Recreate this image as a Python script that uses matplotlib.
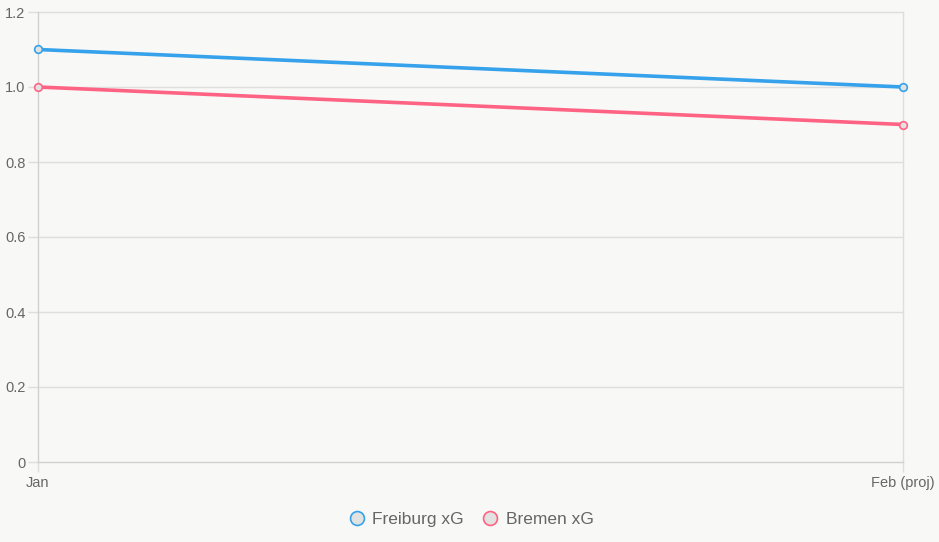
import matplotlib.pyplot as plt
from matplotlib.lines import Line2D

months = ['Jan', 'Feb (proj)']
freiburg_xg = [1.1, 1.0]
bremen_xg = [1.0, 0.9]

bg = '#f8f8f6'
grid_c = '#dedede'
text_c = '#666666'
blue = '#36A2EB'
red = '#FF6384'
marker_fill = '#e2e2e1'

plt.rcParams['font.family'] = ['Liberation Sans', 'DejaVu Sans']

fig = plt.figure(figsize=(9.39, 5.42), dpi=100, facecolor=bg)
ax = fig.add_axes([38/939, 80/542, (903-38)/939, (462-12)/542])
ax.set_facecolor(bg)

x = list(range(len(months)))
for vals, c in [(freiburg_xg, blue), (bremen_xg, red)]:
    ax.plot(x, vals, color=c, lw=2.6, marker='o', ms=5.5, mfc=marker_fill,
            mec=c, mew=1.2, clip_on=False, zorder=3)

ax.set_xlim(0, 1)
ax.set_ylim(0, 1.2)
ax.set_xticks(x)
ax.set_xticklabels(months)
ax.set_yticks([0, 0.2, 0.4, 0.6, 0.8, 1.0, 1.2])
ax.set_yticklabels(['0', '0.2', '0.4', '0.6', '0.8', '1.0', '1.2'])

ax.grid(True, color=grid_c, lw=1)
for gl in ax.get_xgridlines() + ax.get_ygridlines():
    gl.set_clip_on(False)
for s in ax.spines.values():
    s.set_visible(False)
ax.spines['left'].set_visible(True)
ax.spines['left'].set_color('#cfcfcf')
ax.spines['bottom'].set_visible(True)
ax.spines['bottom'].set_color('#cfcfcf')
ax.tick_params(axis='both', colors=grid_c, length=7, width=1, labelcolor=text_c, labelsize=10.5)
ax.tick_params(axis='y', pad=2)
ax.tick_params(axis='x', pad=3)
ax.set_axisbelow(True)

handles = [Line2D([], [], ls='none', marker='o', ms=10, mfc=marker_fill, mec=c, mew=1.2)
           for c in (blue, red)]
fig.legend(handles, ['Freiburg xG', 'Bremen xG'], loc='center', bbox_to_anchor=(470/939, 23/542),
           ncol=2, frameon=False, fontsize=12.5, labelcolor=text_c, handletextpad=0.3,
           columnspacing=0.9, handlelength=1.2)

fig.savefig('out.png', dpi=100, facecolor=bg)
